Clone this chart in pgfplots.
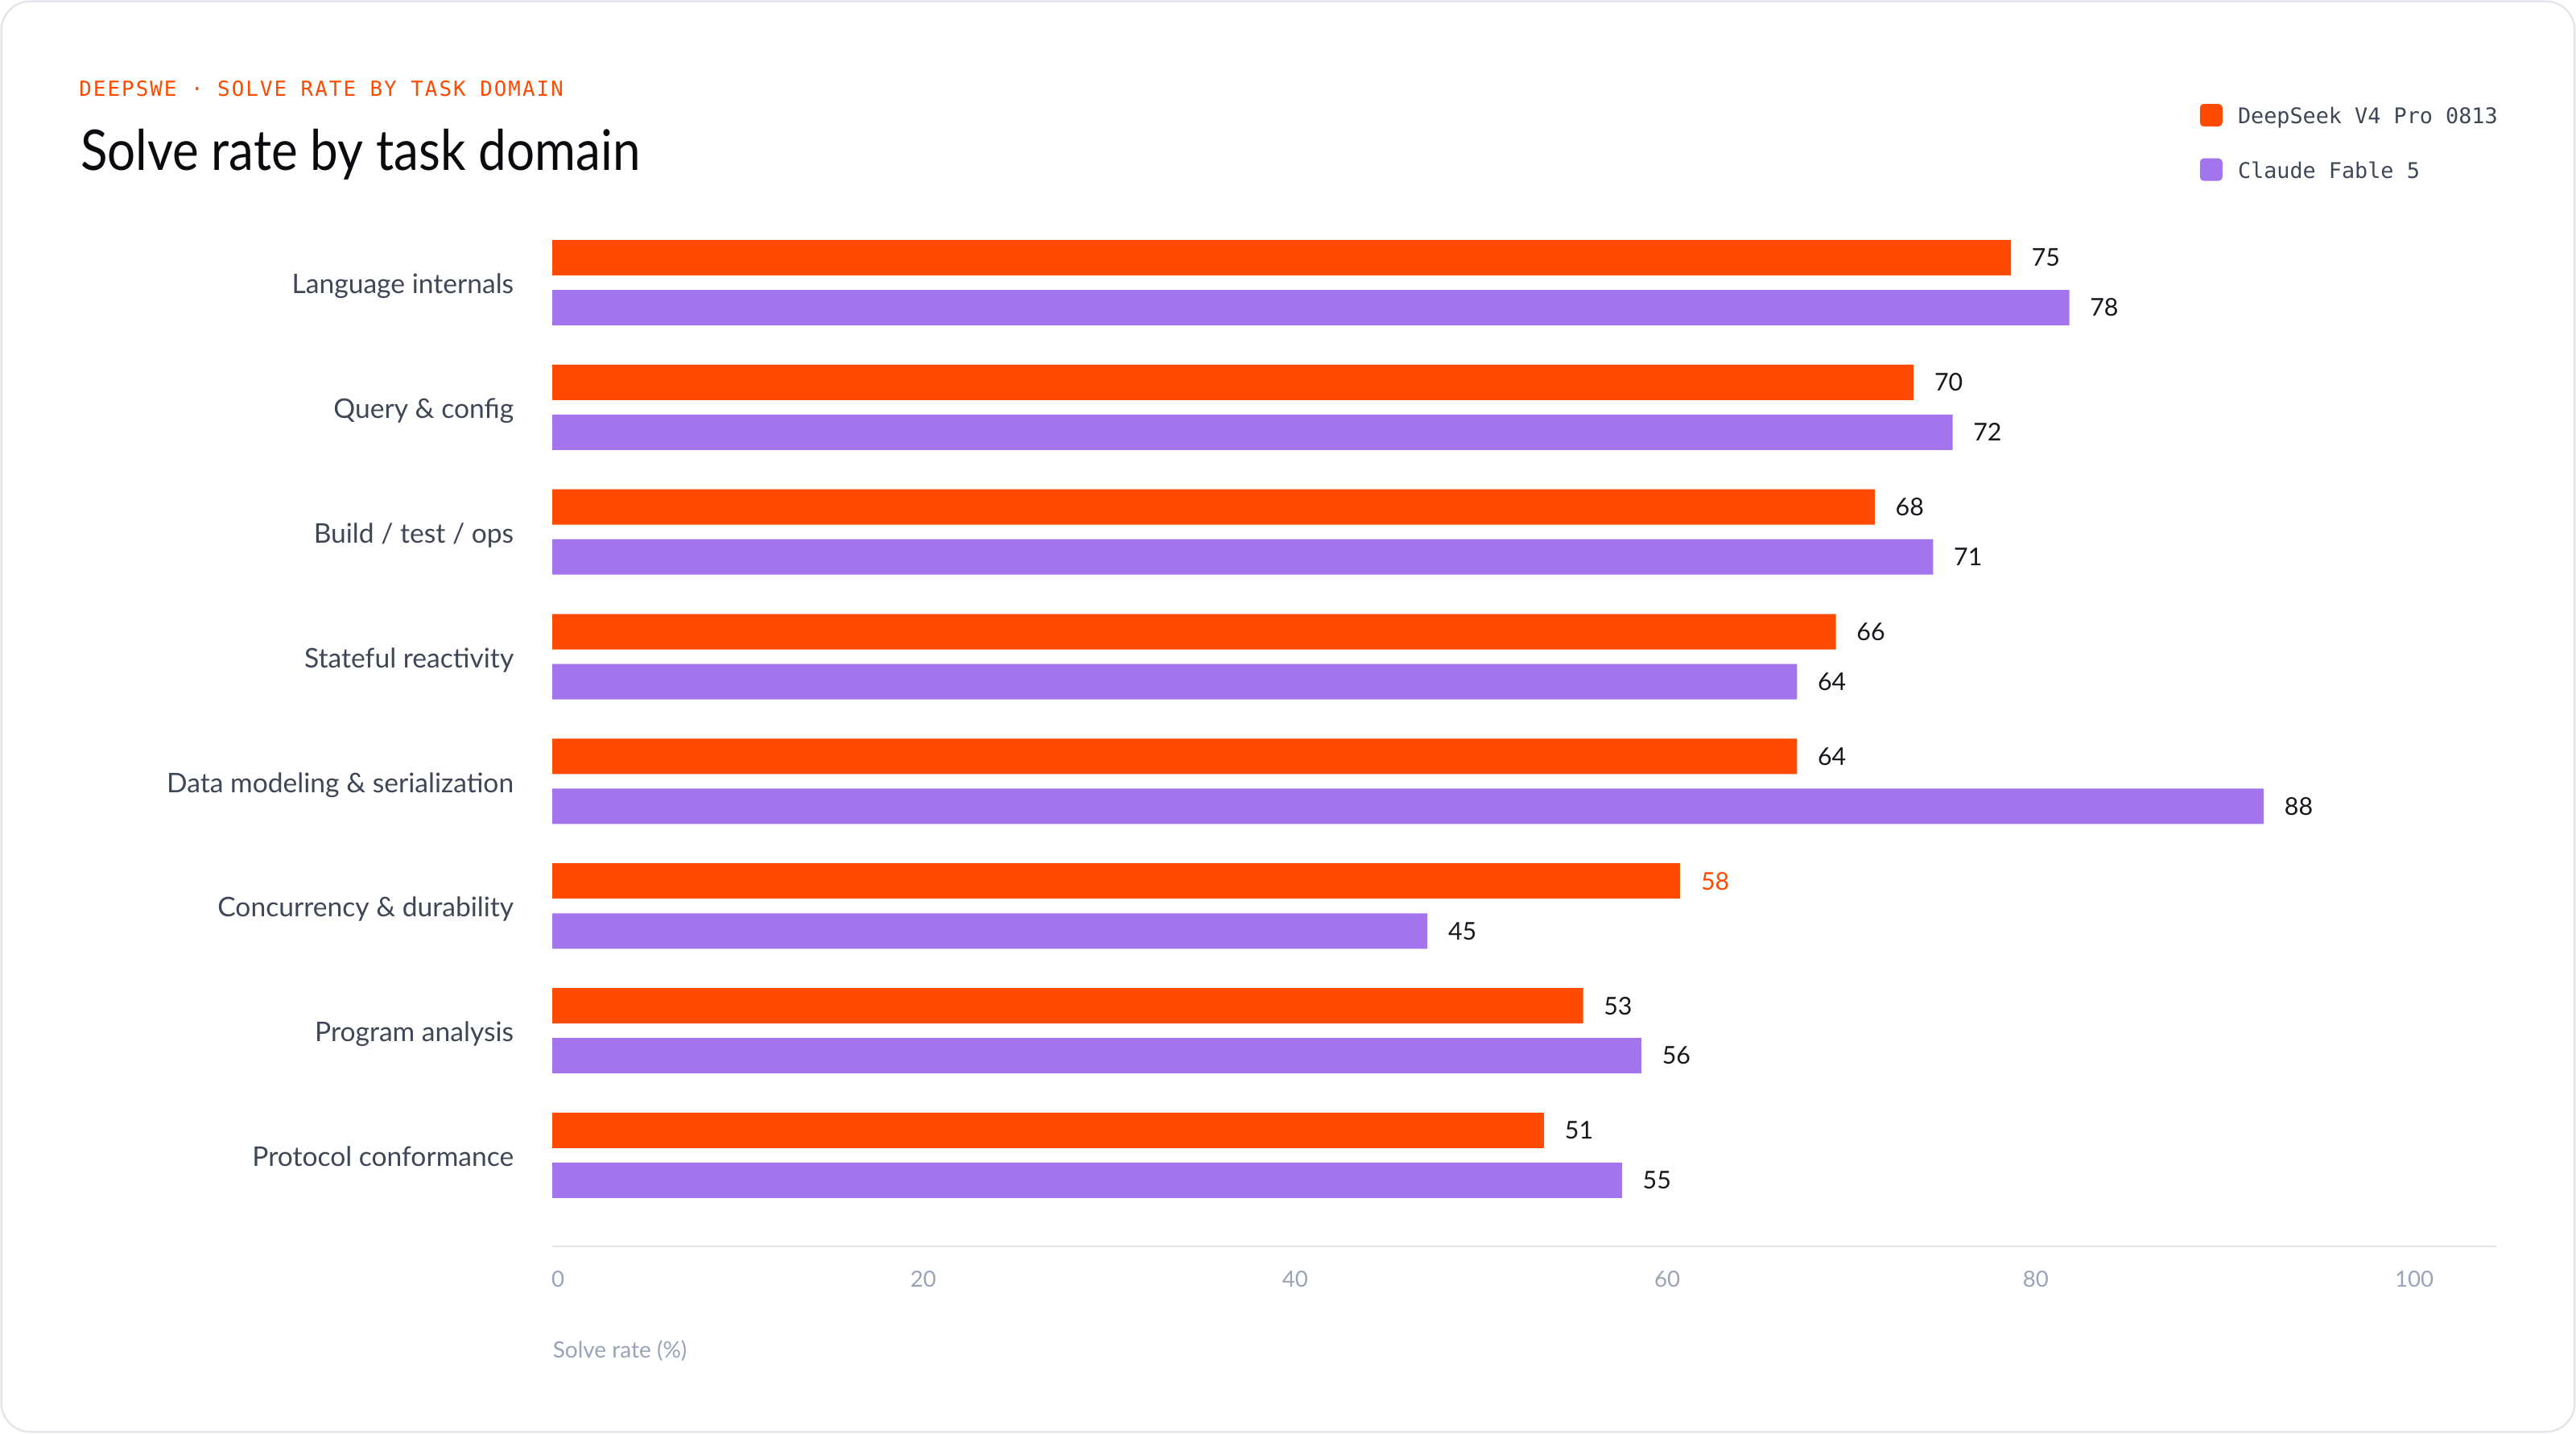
\documentclass[border=0pt]{standalone}
\usepackage{fontspec}
\setmainfont{Lato}
\newfontfamily\titlefont{Lato}[FakeStretch=0.89]
\newfontfamily\monofont{DejaVu Sans Mono}
\newfontfamily\headfont{DejaVu Sans Mono}[LetterSpace=8]
\usepackage{pgfplots}
\usepackage{pgfplotstable}
\pgfplotsset{compat=1.18}

\definecolor{dsorange}{HTML}{FF4A00}
\definecolor{clpurple}{HTML}{A374EC}
\definecolor{catcol}{HTML}{3F4756}
\definecolor{tickcol}{HTML}{9AA3B8}
\definecolor{axiscol}{HTML}{E4E4EA}
\definecolor{cardcol}{HTML}{E3E5EA}
\definecolor{valcol}{HTML}{16181D}
\definecolor{titlecol}{HTML}{0B0B0F}

% DeepSeek V4 Pro 0813 (the highlighted Concurrency value kept apart for its orange label)
\pgfplotstableread{
y ds
7 75
6 70
5 68
4 66
3 64
1 53
0 51
}\dstable
\pgfplotstableread{
y ds
2 58
}\dshltable
% Claude Fable 5
\pgfplotstableread{
y cl
7 78
6 72
5 71
4 64
3 88
2 45
1 56
0 55
}\cltable

\begin{document}
\begin{tikzpicture}
\useasboundingbox (0,0) rectangle (800pt,445pt);
\fill[white] (0,0) rectangle (800pt,445pt);
\draw[cardcol, line width=0.6pt, rounded corners=9pt] (0.4pt,0.4pt) rectangle (799.6pt,444.6pt);

\begin{axis}[
  at={(171.5pt,58pt)}, anchor=south west,
  scale only axis, width=604pt, height=318.6pt,
  xmin=0, xmax=100, ymin=-0.73, ymax=7.5,
  xbar, bar width=11pt,
  axis x line*=bottom, axis y line*=left,
  y axis line style={draw=none},
  x axis line style={-, draw=axiscol, line width=0.6pt},
  ytick={0,1,2,3,4,5,6,7},
  yticklabels={Protocol conformance, Program analysis, Concurrency \& durability, Data modeling \& serialization, Stateful reactivity, Build / test / ops, Query \& config, Language internals},
  xtick={0.29,19.08,38.2,57.33,76.28,95.74},
  xticklabels={0,20,40,60,80,100},
  major tick length=0pt, tick style={draw=none},
  xticklabel style={font=\fontsize{6.9}{8}\selectfont, text=tickcol, anchor=north, inner sep=0pt, yshift=-7.5pt},
  yticklabel style={font=\fontsize{8.4}{10}\selectfont, text=catcol, anchor=base east, inner sep=0pt, xshift=-11.75pt, yshift=-3.4pt},
  point meta=x,
  /pgf/number format/assume math mode=true,
  nodes near coords,
  every node near coord/.append style={anchor=west, inner sep=0pt, xshift=6.25pt, font=\fontsize{7.6}{9}\selectfont, text=valcol},
  clip=false,
  legend style={at={(axis description cs:0.84685,1.1172)}, anchor=north west, draw=none, fill=none, inner sep=0pt,
    font=\monofont\fontsize{6.7}{8}\selectfont, text=catcol, row sep=6.3pt, column sep=2.8pt},
  legend cell align=left,
]
\addplot[fill=dsorange, draw=none, bar shift=7.75pt,
  legend image code/.code={\fill[dsorange, rounded corners=1.2pt] (0pt,-2.7pt) rectangle (7pt,4.3pt);}]
  table[x=ds,y=y]{\dstable};
\addlegendentry{DeepSeek V4 Pro 0813}
\addplot[fill=clpurple, draw=none, bar shift=-7.75pt,
  legend image code/.code={\fill[clpurple, rounded corners=1.2pt] (0pt,-2.7pt) rectangle (7pt,4.3pt);}]
  table[x=cl,y=y]{\cltable};
\addlegendentry{Claude Fable 5}
\addplot[fill=dsorange, draw=none, bar shift=7.75pt, forget plot,
  every node near coord/.append style={text=dsorange}]
  table[x=ds,y=y]{\dshltable};
\end{axis}

\node[anchor=base west, inner sep=0pt, text=dsorange, font=\headfont\fontsize{6.45}{7}\selectfont] at (24.4pt,415pt) {DEEPSWE · SOLVE RATE BY TASK DOMAIN};
\node[anchor=base west, inner sep=0pt, text=titlecol, font=\titlefont\fontsize{17.4}{20}\selectfont] at (24.8pt,392pt) {Solve rate by task domain};
\node[anchor=base west, inner sep=0pt, text=tickcol, font=\fontsize{7}{8}\selectfont] at (171.5pt,23.5pt) {Solve rate (\%)};
\end{tikzpicture}
\end{document}
